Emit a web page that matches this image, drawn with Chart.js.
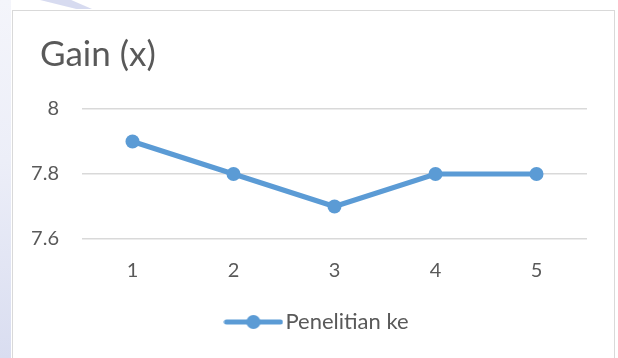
<!DOCTYPE html>
<html>
<head>
<meta charset="utf-8">
<script src="https://cdn.jsdelivr.net/npm/chart.js@4.4.0/dist/chart.umd.min.js"></script>
<style>
  html, body { margin: 0; padding: 0; background: #ffffff; }
  #page { position: relative; width: 618px; height: 358px; overflow: hidden; background: #ffffff; }
  #strip { position: absolute; left: 0; top: 0; width: 11px; height: 358px;
           background: linear-gradient(to bottom, #f4f5fb 0%, #eceef8 45%, #d9ddf0 100%); }
  #wedge { position: absolute; left: 40px; top: 0; width: 52px; height: 9px;
           background: #cdd2ec; clip-path: polygon(0 0, 60% 0, 100% 100%, 70% 100%); opacity: 0.8; }
  #frame { position: absolute; left: 12px; top: 10px; width: 601px; height: 360px;
           border: 1.5px solid #d9d9d9; background: #ffffff; }
  #chart { position: absolute; left: 0; top: 0; }
</style>
</head>
<body>
<div id="page">
  <div id="strip"></div>
  <div id="wedge"></div>
  <div id="frame"></div>
  <canvas id="chart" width="618" height="358"></canvas>
</div>
<script>
// Measurement runs and the recorded gain
const categories = ['1', '2', '3', '4', '5'];
const gainValues = [7.9, 7.8, 7.7, 7.8, 7.8];
const yTicks = [7.6, 7.8, 8];

const seriesName = 'Penelitian ke';
const chartTitle = 'Gain (x)';
const lineColor = '#5b9bd5';
const textColor = '#595959';
const gridColor = '#d9d9d9';

// Legend swatch: a short line with a round marker in the middle
function legendSwatch() {
  const c = document.createElement('canvas');
  c.width = 60; c.height = 16;
  const g = c.getContext('2d');
  g.strokeStyle = lineColor;
  g.lineWidth = 5;
  g.lineCap = 'round';
  g.beginPath();
  g.moveTo(3, 8); g.lineTo(57, 8);
  g.stroke();
  g.fillStyle = lineColor;
  g.beginPath();
  g.arc(30, 8, 7, 0, Math.PI * 2);
  g.fill();
  return c;
}
const swatch = legendSwatch();

// Title sits further right than the axis labels; legend is centred on the frame
const boxOffsets = {
  id: 'boxOffsets',
  afterLayout(chart) {
    if (chart.titleBlock) chart.titleBlock.left = 40;
    if (chart.legend) {
      chart.legend.left += 20;
      chart.legend.right += 20;
    }
  }
};

new Chart(document.getElementById('chart'), {
  type: 'line',
  data: {
    labels: categories,
    datasets: [{
      label: seriesName,
      data: gainValues,
      borderColor: lineColor,
      backgroundColor: lineColor,
      borderWidth: 5,
      pointRadius: 7,
      pointHoverRadius: 7,
      pointBackgroundColor: lineColor,
      pointBorderWidth: 0,
      pointStyle: 'circle',
      tension: 0,
      fill: false
    }]
  },
  plugins: [boxOffsets],
  options: {
    responsive: false,
    animation: false,
    devicePixelRatio: 1,
    layout: { padding: { left: 14, right: 31, top: 22, bottom: 15 } },
    plugins: {
      title: {
        display: true,
        text: chartTitle,
        align: 'start',
        color: textColor,
        font: { family: 'Lato', size: 35, weight: 'normal' },
        padding: { top: 12, bottom: 33 }
      },
      legend: {
        display: true,
        position: 'bottom',
        labels: {
          color: textColor,
          font: { family: 'Lato', size: 22 },
          padding: 8,
          usePointStyle: true,
          pointStyle: swatch,
          pointStyleWidth: 42,
          generateLabels: () => [{
            text: seriesName,
            fillStyle: lineColor,
            strokeStyle: lineColor,
            lineWidth: 0,
            pointStyle: swatch,
            datasetIndex: 0,
            fontColor: textColor
          }]
        }
      },
      tooltip: { enabled: false }
    },
    scales: {
      x: {
        type: 'category',
        offset: true,
        grid: { display: false, drawTicks: false },
        border: { display: false },
        ticks: { color: textColor, font: { family: 'Lato', size: 20 }, padding: 20 }
      },
      y: {
        min: 7.6,
        max: 8,
        afterBuildTicks: (scale) => { scale.ticks = yTicks.map(v => ({ value: v })); },
        afterFit: (scale) => { scale.width = 68; },
        grid: { color: gridColor, lineWidth: 1.5, drawTicks: false },
        border: { display: false },
        ticks: {
          color: textColor,
          font: { family: 'Lato', size: 20 },
          padding: 23,
          callback: (v) => String(Math.round(v * 10) / 10)
        }
      }
    }
  }
});
</script>
</body>
</html>
